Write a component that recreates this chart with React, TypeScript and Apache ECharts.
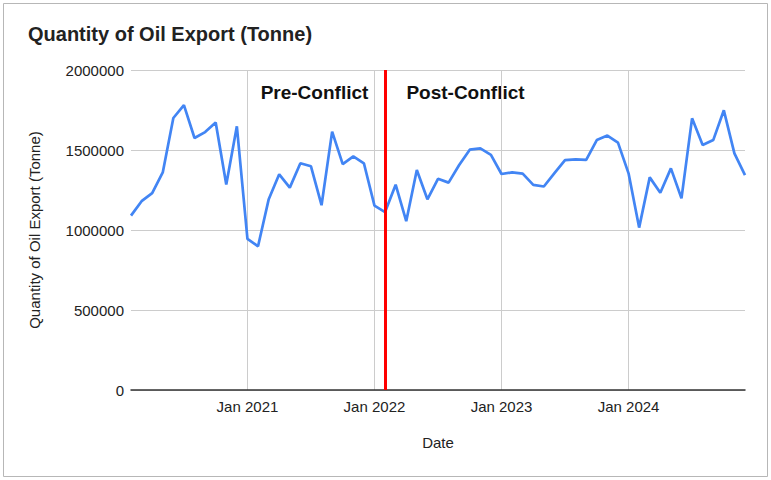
import React, { useEffect, useRef } from "react";
import * as echarts from "echarts";

const months = ["Jan", "Feb", "Mar", "Apr", "May", "Jun", "Jul", "Aug", "Sep", "Oct", "Nov", "Dec"];
const startYear = 2020;
const startMonth = 1; // Feb

const exports2020 = [1090000, 1180000, 1230000, 1360000, 1700000, 1780000, 1575000, 1612000, 1672000, 1285000, 1648000];
const exports2021 = [945000, 898000, 1190000, 1348000, 1265000, 1417000, 1398000, 1155000, 1615000, 1412000, 1460000, 1417000];
const exports2022 = [1152000, 1112000, 1283000, 1055000, 1375000, 1192000, 1320000, 1296000, 1406000, 1502000, 1510000, 1470000];
const exports2023 = [1350000, 1360000, 1352000, 1282000, 1272000, 1355000, 1437000, 1442000, 1438000, 1562000, 1590000, 1546000];
const exports2024 = [1354000, 1015000, 1329000, 1233000, 1385000, 1198000, 1698000, 1531000, 1562000, 1748000, 1479000, 1343000];

const values = [...exports2020, ...exports2021, ...exports2022, ...exports2023, ...exports2024];
const categories = values.map((_, i) => {
  const m = startMonth + i;
  return `${months[m % 12]} ${startYear + Math.floor(m / 12)}`;
});
const conflictMonth = "Feb 2022";
const yTicks = [0, 500000, 1000000, 1500000, 2000000];

const FONT = "Liberation Sans, Arial, sans-serif";

export default function App() {
  const ref = useRef<HTMLDivElement>(null);
  useEffect(() => {
    document.body.style.margin = "0";
    const chart = echarts.init(ref.current!, null, { renderer: "svg" });
    const isJan = (i: number, v: string) => String(v).startsWith("Jan");
    chart.setOption({
      animation: false,
      backgroundColor: "#ffffff",
      textStyle: { fontFamily: FONT },
      title: {
        text: "Quantity of Oil Export (Tonne)",
        left: 23,
        top: 19,
        textStyle: { fontFamily: FONT, fontSize: 20, fontWeight: "bold", color: "#222222" },
      },
      grid: { left: 131, right: 26, top: 70, bottom: 90, containLabel: false },
      xAxis: {
        type: "category",
        data: categories,
        boundaryGap: false,
        name: "Date",
        nameLocation: "middle",
        nameGap: 45,
        nameTextStyle: { fontFamily: FONT, fontSize: 15, color: "#222222" },
        axisLine: { show: true, lineStyle: { color: "#333333", width: 1.5 } },
        axisTick: { show: false },
        axisLabel: {
          interval: isJan,
          fontFamily: FONT,
          fontSize: 15,
          color: "#222222",
          margin: 9,
        },
        splitLine: { show: true, interval: isJan, lineStyle: { color: "#cccccc", width: 1 } },
      },
      yAxis: {
        type: "value",
        min: yTicks[0],
        max: yTicks[yTicks.length - 1],
        interval: yTicks[1] - yTicks[0],
        name: "Quantity of Oil Export (Tonne)",
        nameLocation: "middle",
        nameGap: 89,
        nameRotate: 90,
        nameTextStyle: { fontFamily: FONT, fontSize: 15, color: "#222222" },
        axisLine: { show: false },
        axisTick: { show: false },
        axisLabel: {
          fontFamily: FONT,
          fontSize: 15,
          color: "#222222",
          margin: 7,
          formatter: (v: number) => String(v),
        },
        splitLine: { show: true, lineStyle: { color: "#cccccc", width: 1 } },
      },
      series: [
        {
          type: "line",
          data: values,
          symbol: "none",
          lineStyle: { color: "#4285F4", width: 2.7 },
          itemStyle: { color: "#4285F4" },
          markLine: {
            silent: true,
            symbol: "none",
            label: { show: false },
            lineStyle: { color: "#ff0000", width: 3, type: "solid" },
            data: [{ xAxis: conflictMonth }],
          },
          z: 3,
        },
      ],
      graphic: [
        {
          type: "rect",
          shape: { x: 3.5, y: 3.5, width: 764, height: 473 },
          style: { fill: "none", stroke: "#b7b7b7", lineWidth: 1 },
          silent: true,
        },
        {
          type: "text",
          x: 314.5,
          y: 92.5,
          style: {
            text: "Pre-Conflict",
            fontFamily: FONT,
            fontSize: 19,
            fontWeight: "bold",
            fill: "#111111",
            align: "center",
            verticalAlign: "middle",
          },
        },
        {
          type: "text",
          x: 465.5,
          y: 92.5,
          style: {
            text: "Post-Conflict",
            fontFamily: FONT,
            fontSize: 19,
            fontWeight: "bold",
            fill: "#111111",
            align: "center",
            verticalAlign: "middle",
          },
        },
      ],
    });
    return () => chart.dispose();
  }, []);
  return <div ref={ref} style={{ width: 771, height: 480 }} />;
}
